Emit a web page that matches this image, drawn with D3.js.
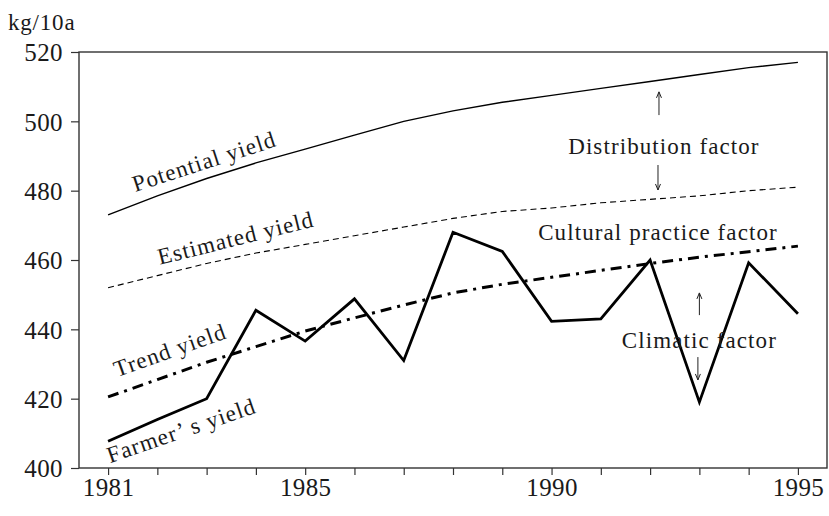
<!DOCTYPE html>
<html>
<head>
<meta charset="utf-8">
<script src="https://cdn.jsdelivr.net/npm/d3@7"></script>
<style>
  body { margin: 0; background: #fff; }
  text { font-family: "Liberation Serif", "DejaVu Serif", serif; fill: #1a1a1a; }
</style>
</head>
<body>
<div class="chart"></div>
<script>
const years = [1981, 1982, 1983, 1984, 1985, 1986, 1987, 1988, 1989, 1990, 1991, 1992, 1993, 1994, 1995]
const potentialYield = [473, 478.5, 483.5, 488, 492, 496, 500, 503, 505.5, 507.5, 509.5, 511.5, 513.5, 515.5, 517]
const estimatedYield = [452, 455.5, 459, 462, 464.5, 467, 469.5, 472, 474, 475, 476.5, 477.5, 478.5, 480, 481]
const trendYield = [420.5, 425.5, 430.5, 435, 439.5, 443.3, 447, 450.5, 453, 455, 457, 459, 460.8, 462.4, 464]
const farmersYield = [407.7, 414, 420, 445.5, 436.6, 448.8, 431, 468, 462.5, 442.3, 443, 460, 419, 459.2, 444.5]
const yTicks = [400, 420, 440, 460, 480, 500, 520]
const xLabelYears = [1981, 1985, 1990, 1995]

const fullWidth = 829
const fullHeight = 516
const margin = {top: 52, right: 2, bottom: 48, left: 79}
const width = fullWidth - margin.left - margin.right
const height = fullHeight - margin.top - margin.bottom
const serif = '"Liberation Serif", "DejaVu Serif", serif'

const svg = d3.select('.chart')
    .append('svg')
    .attr('width', fullWidth)
    .attr('height', fullHeight)

const g = svg.append('g')
    .attr('transform', `translate(${margin.left}, ${margin.top})`)

const xScale = d3.scaleLinear()
    .domain([1980.41, 1995.59])
    .range([0, width])
const yScale = d3.scaleLinear()
    .domain([400, 520])
    .range([height, 0])

// frame
g.append('rect')
    .attr('width', width)
    .attr('height', height)
    .style('fill', 'none')
    .style('stroke', '#333')
    .style('stroke-width', 1.4)

// axes
const xAxis = d3.axisBottom(xScale)
    .tickValues(years)
    .tickSize(7)
    .tickFormat(d => xLabelYears.includes(d) ? d : '')
const gx = g.append('g')
    .attr('transform', `translate(0, ${height})`)
    .call(xAxis)
gx.select('.domain').remove()
gx.selectAll('.tick line').style('stroke', '#333').style('stroke-width', 1.2)
gx.selectAll('.tick text')
    .attr('y', 28)
    .attr('dy', 0)
    .style('font-size', '25px')
    .style('letter-spacing', '0.4px')
    .style('font-family', serif)
    .style('fill', '#1a1a1a')

const yAxis = d3.axisLeft(yScale)
    .tickValues(yTicks)
    .tickSize(8)
    .tickPadding(8)
const gy = g.append('g').call(yAxis)
gy.select('.domain').remove()
gy.selectAll('.tick line').style('stroke', '#333').style('stroke-width', 1.2)
gy.selectAll('.tick text')
    .attr('dy', '0.35em')
    .style('font-size', '25px')
    .style('letter-spacing', '0.4px')
    .style('font-family', serif)
    .style('fill', '#1a1a1a')

svg.append('text')
    .attr('x', 8)
    .attr('y', 30)
    .style('font-size', '23px')
    .style('letter-spacing', '0.8px')
    .text('kg/10a')

// lines
const line = d3.line()
    .x(d => xScale(d[0]))
    .y(d => yScale(d[1]))

function drawSeries(values, width, dash) {
    g.append('path')
        .attr('d', line(d3.zip(years, values)))
        .style('fill', 'none')
        .style('stroke', '#000')
        .style('stroke-width', width)
        .style('stroke-linejoin', 'miter')
        .style('stroke-dasharray', dash)
}
drawSeries(potentialYield, 1.4, null)
drawSeries(estimatedYield, 1.1, '6,4')
drawSeries(trendYield, 3, '11,6,3,6')
drawSeries(farmersYield, 2.8, null)

// rotated series labels
const seriesLabels = [
    {text: 'Potential yield', year: 1981.55, value: 479.6, angle: -18},
    {text: 'Estimated yield', year: 1982.05, value: 458.6, angle: -14},
    {text: 'Trend yield', year: 1981.18, value: 426.2, angle: -19.5},
    {text: 'Farmer\u2019 s yield', year: 1981.04, value: 401.4, angle: -19}
]
seriesLabels.forEach(l => {
    g.append('text')
        .attr('transform', `translate(${xScale(l.year)}, ${yScale(l.value)}) rotate(${l.angle})`)
        .style('font-size', '23px')
        .style('letter-spacing', '1.1px')
        .text(l.text)
})

// factor annotations
const notes = [
    {text: 'Distribution factor', year: 1992.28, value: 490.6},
    {text: 'Cultural practice factor', year: 1992.16, value: 465.8},
    {text: 'Climatic factor', year: 1993.0, value: 434.6}
]
notes.forEach(n => {
    g.append('text')
        .attr('x', xScale(n.year))
        .attr('y', yScale(n.value))
        .attr('text-anchor', 'middle')
        .style('font-size', '23px')
        .style('letter-spacing', '1.1px')
        .text(n.text)
})

const arrows = [
    {year: 1992.18, from: 501.8, to: 508.5},
    {year: 1992.16, from: 487.4, to: 480.2},
    {year: 1993.0, from: 444.1, to: 450.5},
    {year: 1992.97, from: 432, to: 425.4}
]
arrows.forEach(a => {
    const x = xScale(a.year)
    const y0 = yScale(a.from)
    const y1 = yScale(a.to)
    const dir = y1 < y0 ? 1 : -1
    g.append('line')
        .attr('x1', x).attr('x2', x)
        .attr('y1', y0).attr('y2', y1)
        .style('stroke', '#222')
        .style('stroke-width', 1)
    g.append('path')
        .attr('d', `M${x - 2.5},${y1 + dir * 6}L${x},${y1}L${x + 2.5},${y1 + dir * 6}`)
        .style('fill', 'none')
        .style('stroke', '#222')
        .style('stroke-width', 1)
})
</script>
</body>
</html>
